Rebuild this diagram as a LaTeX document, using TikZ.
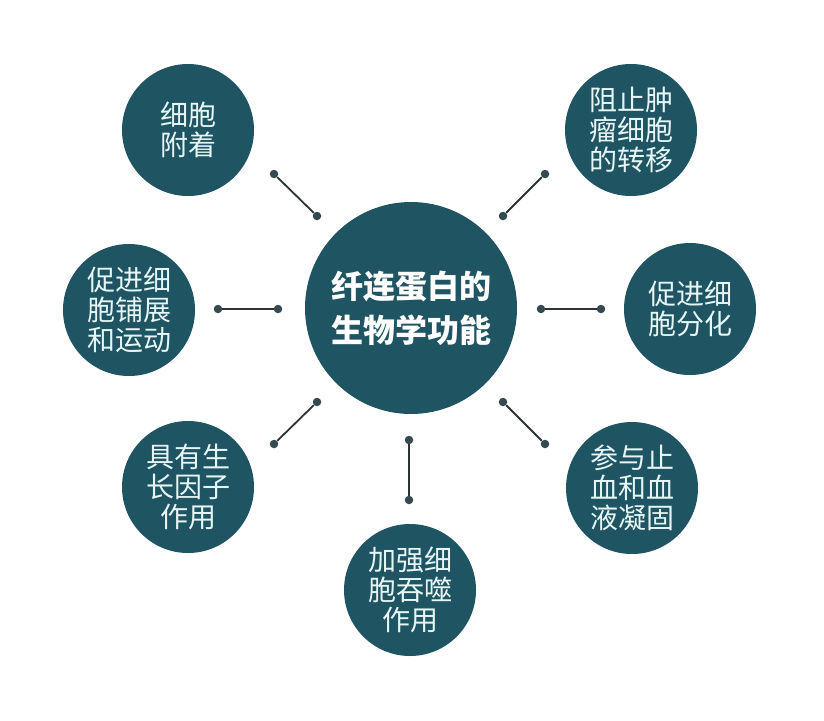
\documentclass[tikz,border=0pt]{standalone}
\usepackage{fontspec}
\newfontfamily\cjk{Noto Sans CJK SC}
\definecolor{circfill}{RGB}{31,84,99}
\definecolor{dotcol}{RGB}{52,74,78}
\definecolor{linecol}{RGB}{45,50,52}
\definecolor{txtcol}{RGB}{230,246,246}
\begin{document}
\begin{tikzpicture}[x=1pt,y=-1pt,
  bubble/.style={circle,fill=circfill,minimum size=132pt,inner sep=0pt,text=txtcol,
    font=\cjk\fontsize{28}{30}\selectfont,align=center},
  hub/.style={circle,fill=circfill,minimum size=212pt,inner sep=0pt,text=white,
    font=\cjk\bfseries\fontsize{32}{44}\selectfont,align=center},
  dot/.style={circle,fill=dotcol,minimum size=8.5pt,inner sep=0pt},
  link/.style={draw=linecol,line width=1.8pt}]
\useasboundingbox (0,0) rectangle (824,720);
\fill[white] (0,0) rectangle (824,720);
\node[hub] (c) at (411,308) {纤连蛋白的\\生物学功能};
\node[bubble] (n1) at (188,130) {细胞\\附着};
\node[bubble] (n2) at (631,130) {阻止肿\\瘤细胞\\的转移};
\node[bubble] (n3) at (129,310) {促进细\\胞铺展\\和运动};
\node[bubble] (n4) at (690,309) {促进细\\胞分化};
\node[bubble] (n5) at (188,487) {具有生\\长因子\\作用};
\node[bubble] (n6) at (632,488) {参与止\\血和血\\液凝固};
\node[bubble] (n7) at (410,590) {加强细\\胞吞噬\\作用};
% connectors
\node[dot] (a1) at (274,174) {}; \node[dot] (b1) at (317,216) {};
\node[dot] (a2) at (545,174) {}; \node[dot] (b2) at (503,216) {};
\node[dot] (a3) at (218,309) {}; \node[dot] (b3) at (278,309) {};
\node[dot] (a4) at (601,309) {}; \node[dot] (b4) at (541,309) {};
\node[dot] (a5) at (274,444) {}; \node[dot] (b5) at (317,402) {};
\node[dot] (a6) at (545,444) {}; \node[dot] (b6) at (503,402) {};
\node[dot] (a7) at (409,500) {}; \node[dot] (b7) at (409,440) {};
\foreach \i in {1,...,7}{\draw[link] (a\i) -- (b\i);}
\end{tikzpicture}
\end{document}
